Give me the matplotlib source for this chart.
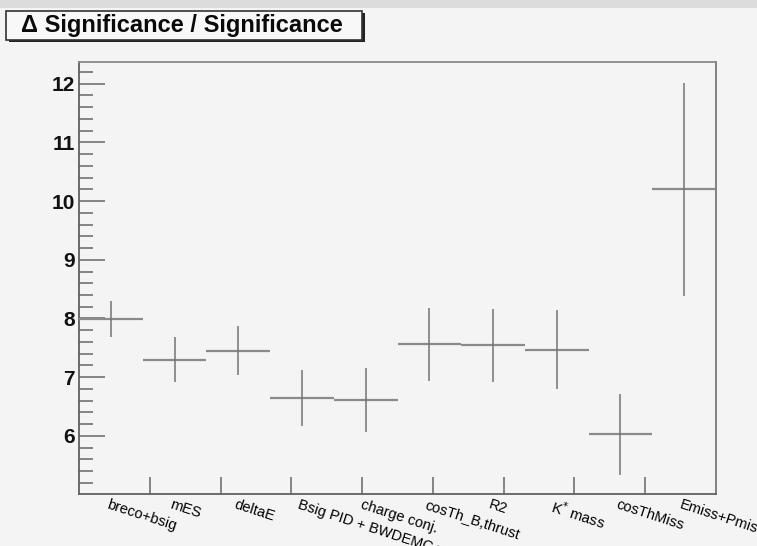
import numpy as np
import matplotlib
matplotlib.use("Agg")
import matplotlib.pyplot as plt
from matplotlib.patches import Rectangle
from matplotlib.transforms import blended_transform_factory

# Selection steps and the relative change of significance after each one
categories = ["breco+bsig", "mES", "deltaE", "Bsig PID + BWDEMC veto",
              "charge conj.", "cosTh_B,thrust", "R2", "K* mass",
              "cosThMiss", "Emiss+Pmiss"]
values = [7.99, 7.30, 7.45, 6.65, 6.61, 7.56, 7.54, 7.47, 6.03, 10.20]
errors = [0.31, 0.39, 0.42, 0.48, 0.545, 0.62, 0.62, 0.67, 0.69, 1.82]
y_ticks = [6, 7, 8, 9, 10, 11, 12]
title = "\u0394 Significance / Significance"

W, H = 757, 546
bg = "#f4f4f4"
fig = plt.figure(figsize=(W / 100, H / 100), dpi=100, facecolor=bg)

# window strip along the top edge
fig.patches.append(Rectangle((0, 1 - 8 / H), 1, 8 / H, transform=fig.transFigure,
                             facecolor="#dcdcdc", edgecolor="none", zorder=0))

ax = fig.add_axes([79 / W, 1 - 494 / H, (716 - 79) / W, (494 - 62) / H])
ax.set_facecolor(bg)

n = len(categories)
x = np.arange(n) + 0.5
ax.errorbar(x, values, xerr=0.5, yerr=None, fmt="none", ecolor="#8a8a8a",
            elinewidth=1.6, capsize=0, zorder=3)
ax.errorbar(x, values, yerr=errors, fmt="none", ecolor="#747474",
            elinewidth=1.1, capsize=0, zorder=3)

ax.set_xlim(0, n)
ax.set_ylim(5.01, 12.37)

for side in ["left", "right", "top", "bottom"]:
    ax.spines[side].set_color("#606060")
    ax.spines[side].set_linewidth(1.3)
ax.spines["top"].set_color("#888888")
ax.spines["right"].set_color("#777777")

# y axis: bold numbers, ticks drawn inside the frame
ax.set_yticks(y_ticks)
ax.set_yticklabels([str(v) for v in y_ticks], fontfamily="Liberation Sans",
                   fontweight="bold", fontsize=15, color="#111111")
ax.set_yticks(np.arange(5.2, 12.4, 0.2), minor=True)
ax.tick_params(axis="y", which="major", direction="in", length=19, width=1.2,
               color="#707070", pad=3)
ax.tick_params(axis="y", which="minor", direction="in", length=10, width=1.2,
               color="#707070")

# x axis: evenly spaced divisions, labels written at the bin centres
ax.set_xticks(np.arange(1, 9) * n / 9)
ax.set_xticklabels([])
ax.tick_params(axis="x", which="major", direction="in", length=12, width=1.2,
               color="#707070")

trans = blended_transform_factory(ax.transData, ax.transAxes)
for xi, lab in zip(x, categories):
    txt = lab.replace("K* mass", "K$^{*}$ mass")
    ax.text(xi - 0.03, -0.008, txt, transform=trans, rotation=-18,
            rotation_mode="anchor", ha="left", va="top",
            fontfamily="Liberation Sans", fontsize=10.5, color="#000000",
            clip_on=False)

# title box with drop shadow
bx0, by0, bx1, by1 = 6, 11, 362, 40
fig.patches.append(Rectangle(((bx0 + 2.5) / W, 1 - (by1 + 2.5) / H),
                             (bx1 - bx0) / W, (by1 - by0) / H,
                             transform=fig.transFigure, facecolor="#222222",
                             edgecolor="none", zorder=1))
fig.patches.append(Rectangle((bx0 / W, 1 - by1 / H), (bx1 - bx0) / W, (by1 - by0) / H,
                             transform=fig.transFigure, facecolor="#f8f8f8",
                             edgecolor="#333333", linewidth=1.2, zorder=2))
fig.text(21 / W, 1 - 25.5 / H, title, ha="left", va="center",
         fontfamily="Liberation Sans", fontweight="bold", fontsize=17,
         color="#0a0a0a", zorder=3)

fig.savefig("out.png", dpi=100, facecolor=bg)
